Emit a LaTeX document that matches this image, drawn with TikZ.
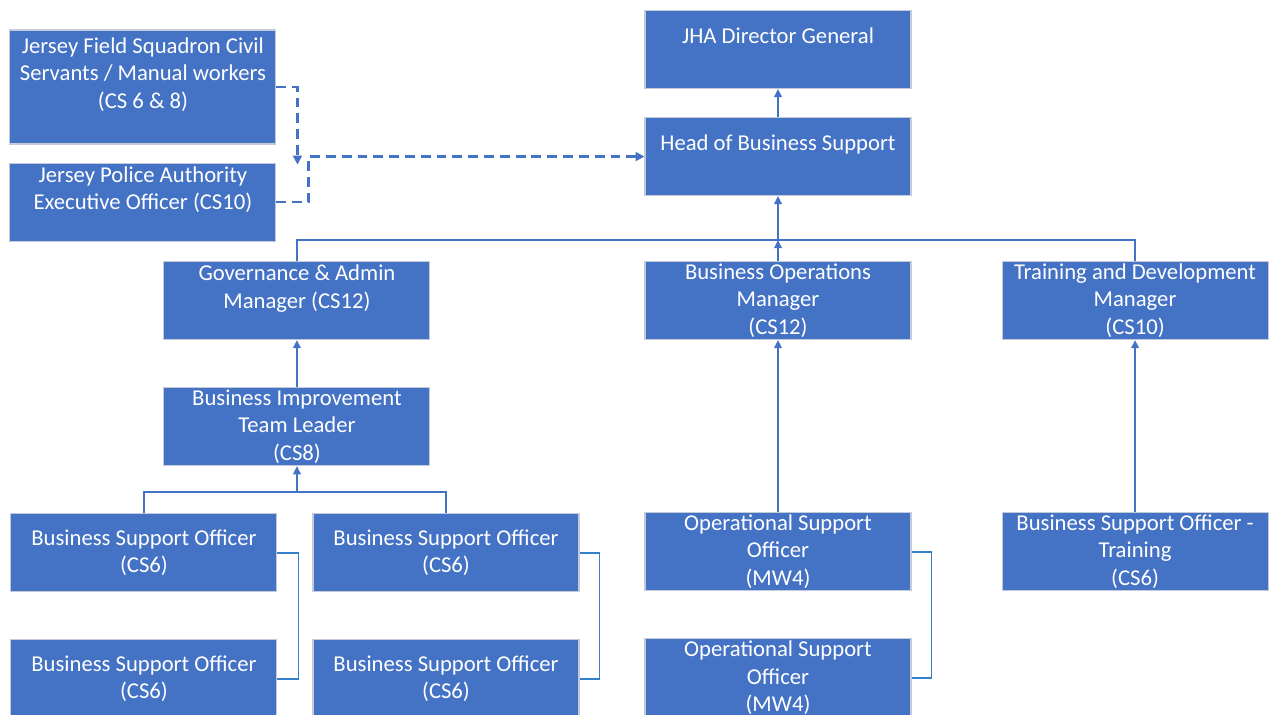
\documentclass[tikz,border=0pt]{standalone}
\usepackage{fontspec}
\setmainfont{Carlito}
\usepackage{tikz}
\usetikzlibrary{arrows.meta, positioning}
\definecolor{officeblue}{HTML}{4472C4}
\definecolor{edgegray}{HTML}{C3CAD8}
\definecolor{tieblue}{HTML}{3380CC}
\tikzstyle{post} = [rectangle, minimum width=5.32cm, minimum height=1.56cm, inner sep=0pt, align=center, text=white, fill=officeblue, draw=edgegray, line width=0.6pt, font=\fontsize{12.9}{15.8}\selectfont]
\tikzstyle{reports} = [draw=officeblue, line width=0.9pt, -{Triangle[length=4.6pt, width=4.4pt]}]
\tikzstyle{link} = [draw=officeblue, line width=0.9pt]
\tikzstyle{tie} = [draw=tieblue, line width=1pt]
\tikzstyle{dashreport} = [draw=officeblue, line width=1.4pt, dash pattern=on 5.6pt off 3.4pt, -{Triangle[length=5pt, width=5pt]}]

\begin{document}
\begin{tikzpicture}
\useasboundingbox (0,0) rectangle (25.46,-14.28);
% top of the chart
\node (dg) [post] at (15.56,-0.99) {JHA Director General\\~};
\node (head) [post, below=0.56cm of dg] {Head of Business Support\\~};
\node (jpa) [post, left=7.36cm of head, yshift=-0.91cm] {Jersey Police Authority\\Executive Officer (CS10)\\~};
\node (jfs) [post, above=0.36cm of jpa, minimum height=2.28cm] {Jersey Field Squadron Civil\\Servants / Manual workers\\(CS 6 \& 8)\\~};
% managers
\node (bops) [post, below=1.3cm of head] {Business Operations\\Manager\\(CS12)};
\node (gov) [post, left=4.28cm of bops] {Governance \& Admin\\Manager (CS12)\\~};
\node (tdm) [post, right=1.8cm of bops] {Training and Development\\Manager\\(CS10)};
\node (bitl) [post, below=0.94cm of gov] {Business Improvement\\Team Leader\\(CS8)};
% officers
\node (bso1) [post, below=0.94cm of bitl, xshift=-3.06cm] {Business Support Officer\\(CS6)};
\node (bso2) [post, right=0.7cm of bso1] {Business Support Officer\\(CS6)};
\node (bso3) [post, below=0.94cm of bso1] {Business Support Officer\\(CS6)};
\node (bso4) [post, below=0.94cm of bso2] {Business Support Officer\\(CS6)};
\node (oso1) [post, below=3.44cm of bops] {Operational Support\\Officer\\(MW4)};
\node (oso2) [post, below=0.94cm of oso1] {Operational Support\\Officer\\(MW4)};
\node (bsot) [post, below=3.44cm of tdm] {Business Support Officer -\\Training\\(CS6)};

\coordinate [below=0.88cm of head.south] (bus);
\coordinate [below=0.52cm of bitl.south] (team);
\coordinate [right=0.42cm of jpa.north east, yshift=-0.04cm] (drop);

\draw [reports] (head) -- (dg);
\draw [reports] (bus) -- (head);
\draw [reports] (bops) -- (bus);
\draw [link] (gov.north) |- (bus);
\draw [link] (tdm.north) |- (bus);
\draw [reports] (bitl) -- (gov);
\draw [link] (bso1.north) |- (team) -| (bso2.north);
\draw [reports] (team) -- (bitl);
\draw [reports] (oso1) -- (bops);
\draw [reports] (bsot) -- (tdm);
% job shares
\draw [tie] (bso1.east) -- ++(0.42,0) |- (bso3.east);
\draw [tie] (bso2.east) -- ++(0.4,0) |- (bso4.east);
\draw [tie] (oso1.east) -- ++(0.4,0) |- (oso2.east);
% dotted-line reporting
\draw [dashreport] (jfs.east) -| (drop);
\draw [dashreport] (jpa.east) -- ++(0.64,0) |- (head.west);
\end{tikzpicture}
\end{document}
